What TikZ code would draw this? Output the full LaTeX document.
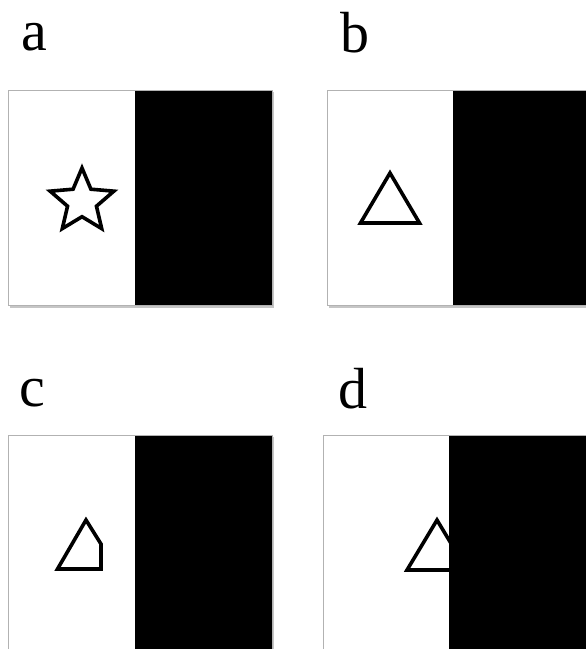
\documentclass[tikz,border=0pt]{standalone}
\usepackage{fontspec}
\setmainfont{Liberation Serif}
\tikzset{
  lbl/.style={anchor=base west, inner sep=0pt, font=\fontsize{58}{60}\selectfont},
  panelframe/.style={draw=gray!60, line width=0.8pt},
  shadow/.style={fill=gray!45},
  darkpart/.style={fill=black},
  glyph/.style={draw=black, line width=3.6pt, line join=miter, fill=white}
}
\begin{document}
\begin{tikzpicture}[x=1pt,y=-1pt]
\useasboundingbox (0,0) rectangle (586,649);
\fill[white] (0,0) rectangle (586,649);
% labels
\node[lbl] (la) at (21,50) {a};
\node[lbl] (lb) at (340,52) {b};
\node[lbl] (lc) at (19,406) {c};
\node[lbl] (ld) at (338,408) {d};
% panel a
\fill[shadow] (10,92) rectangle (274,308);
\fill[white] (8.5,90) rectangle (272,305);
\fill[darkpart] (135,90) rectangle (272,305);
\draw[panelframe] (8.5,90) rectangle (272,305);
\draw[glyph] (82,168)
  \foreach \k in {1,...,9} {
    -- ({82+(mod(\k,2)==0 ? 33.5 : 15.2)*sin(36*\k)}, {201.5-(mod(\k,2)==0 ? 33.5 : 15.2)*cos(36*\k)})
  } -- cycle;
% panel b
\fill[shadow] (329,92) rectangle (600,308);
\fill[white] (327,90) rectangle (600,305);
\fill[darkpart] (453,90) rectangle (600,305);
\draw[panelframe] (327,90) rectangle (600,305);
\draw[glyph] (390,173) -- (419.5,223) -- (360.5,223) -- cycle;
% panel c
\fill[shadow] (10,437) rectangle (274,660);
\fill[white] (8.5,435) rectangle (272,660);
\fill[darkpart] (135,435) rectangle (272,660);
\draw[panelframe] (8.5,660) -- (8.5,435) -- (272,435) -- (272,660);
\draw[glyph] (86,520) -- (101,544) -- (101,569) -- (57.5,569) -- cycle;
% panel d
\fill[shadow] (325,437) rectangle (600,660);
\fill[white] (323,435) rectangle (600,660);
\draw[glyph] (437,520) -- (467,570) -- (407,570) -- cycle;
\fill[darkpart] (449,435) rectangle (600,660);
\draw[panelframe] (323,660) -- (323,435) -- (600,435);
\end{tikzpicture}
\end{document}
